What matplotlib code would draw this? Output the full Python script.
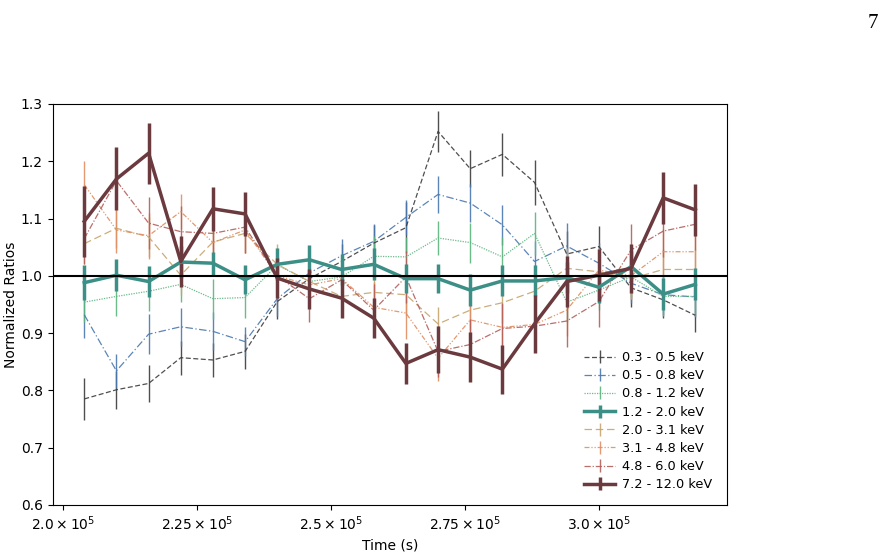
import matplotlib
matplotlib.use("Agg")
import matplotlib.pyplot as plt
from matplotlib.ticker import FuncFormatter, FixedLocator

time_s = [203900, 209900, 215900, 221900, 227900, 233900, 239900, 245900, 251900, 257900,
          263900, 269900, 275900, 281900, 287900, 293900, 299900, 305900, 311900, 317900]

band_labels = ["0.3 - 0.5 keV", "0.5 - 0.8 keV", "0.8 - 1.2 keV", "1.2 - 2.0 keV",
               "2.0 - 3.1 keV", "3.1 - 4.8 keV", "4.8 - 6.0 keV", "7.2 - 12.0 keV"]

r_03_05 = [0.785, 0.801, 0.812, 0.857, 0.853, 0.868, 0.955, 0.995, 1.025, 1.057,
           1.084, 1.252, 1.187, 1.212, 1.163, 1.038, 1.051, 0.979, 0.958, 0.931]
e_03_05 = [0.036, 0.033, 0.032, 0.030, 0.030, 0.030, 0.030, 0.030, 0.030, 0.032,
           0.045, 0.036, 0.032, 0.038, 0.040, 0.040, 0.036, 0.034, 0.032, 0.030]

r_05_08 = [0.932, 0.834, 0.898, 0.911, 0.903, 0.885, 0.960, 1.005, 1.035, 1.060,
           1.102, 1.142, 1.127, 1.089, 1.025, 1.052, 1.022, 0.987, 0.967, 0.963]
e_05_08 = [0.040, 0.030, 0.035, 0.033, 0.033, 0.025, 0.030, 0.030, 0.030, 0.030,
           0.030, 0.033, 0.033, 0.035, 0.035, 0.040, 0.035, 0.035, 0.035, 0.035]

r_08_12 = [0.954, 0.964, 0.973, 0.985, 0.960, 0.962, 1.019, 0.990, 0.998, 1.034,
           1.033, 1.066, 1.058, 1.033, 1.074, 0.954, 0.975, 0.998, 0.964, 0.964]
e_08_12 = [0.035, 0.035, 0.035, 0.030, 0.035, 0.035, 0.030, 0.035, 0.035, 0.035,
           0.035, 0.030, 0.035, 0.035, 0.038, 0.035, 0.035, 0.035, 0.035, 0.035]

r_12_20 = [0.988, 1.001, 0.990, 1.024, 1.022, 0.993, 1.020, 1.028, 1.011, 1.020,
           0.995, 0.995, 0.975, 0.991, 0.991, 0.997, 0.980, 1.016, 0.968, 0.985]
e_12_20 = [0.030, 0.028, 0.027, 0.028, 0.020, 0.025, 0.028, 0.025, 0.027, 0.028,
           0.025, 0.025, 0.028, 0.027, 0.027, 0.027, 0.027, 0.027, 0.028, 0.028]

r_20_31 = [1.056, 1.083, 1.068, 1.001, 1.059, 1.074, 1.020, 0.990, 0.964, 0.971,
           0.967, 0.916, 0.940, 0.953, 0.973, 1.013, 1.007, 0.995, 1.011, 1.011]
e_20_31 = [0.035, 0.035, 0.035, 0.035, 0.035, 0.035, 0.035, 0.035, 0.035, 0.035,
           0.035, 0.030, 0.035, 0.035, 0.035, 0.035, 0.035, 0.035, 0.035, 0.035]

r_31_48 = [1.159, 1.080, 1.070, 1.112, 1.058, 1.080, 1.000, 0.984, 0.995, 0.945,
           0.935, 0.856, 0.923, 0.910, 0.915, 0.940, 1.010, 1.000, 1.042, 1.042]
e_31_48 = [0.042, 0.040, 0.040, 0.030, 0.040, 0.040, 0.040, 0.040, 0.040, 0.045,
           0.045, 0.040, 0.040, 0.040, 0.040, 0.045, 0.040, 0.040, 0.040, 0.040]

r_48_60 = [1.065, 1.166, 1.092, 1.077, 1.074, 1.085, 1.000, 0.960, 0.993, 0.940,
           0.998, 0.868, 0.880, 0.908, 0.912, 0.921, 0.955, 1.045, 1.078, 1.090]
e_48_60 = [0.045, 0.045, 0.045, 0.045, 0.045, 0.045, 0.045, 0.040, 0.040, 0.045,
           0.045, 0.045, 0.045, 0.045, 0.045, 0.045, 0.045, 0.045, 0.045, 0.045]

r_72_120 = [1.095, 1.169, 1.214, 1.025, 1.117, 1.108, 0.996, 0.977, 0.961, 0.926,
            0.847, 0.871, 0.858, 0.837, 0.916, 0.990, 1.001, 1.013, 1.136, 1.115]
e_72_120 = [0.062, 0.055, 0.053, 0.045, 0.038, 0.038, 0.035, 0.035, 0.034, 0.035,
            0.036, 0.041, 0.044, 0.043, 0.050, 0.045, 0.045, 0.043, 0.045, 0.046]

ratios = [r_03_05, r_05_08, r_08_12, r_12_20, r_20_31, r_31_48, r_48_60, r_72_120]
errors = [e_03_05, e_05_08, e_08_12, e_12_20, e_20_31, e_31_48, e_48_60, e_72_120]

colors = ["#3c3c3c", "#4a78b0", "#5cb47e", "#3b8f86",
          "#c6a56e", "#e08e62", "#b35f5b", "#6b3a3e"]
styles = [(0, (4, 2)), (0, (6, 2, 1, 2)), (0, (1, 1)), "-",
          (0, (6, 3)), (0, (4, 1.5, 1, 1.5, 1, 1.5)), (0, (5, 1.5, 1, 1.5)), "-"]
thick = [False, False, False, True, False, False, False, True]
alphas = [0.9, 0.9, 0.9, 1.0, 0.9, 0.9, 0.9, 1.0]

fig = plt.figure(figsize=(8.92, 5.53), dpi=100)
ax = fig.add_axes([0.059, 0.087, 0.756, 0.725])

for r, e, lab, c, ls, tk, a in zip(ratios, errors, band_labels, colors, styles, thick, alphas):
    lw = 2.5 if tk else 0.9
    eb = ax.errorbar(time_s, r, yerr=e, color=c, lw=lw, elinewidth=(2.5 if tk else 1.0),
                     capsize=0, label=lab, alpha=a, zorder=(3 if tk else 2))
    eb[0].set_linestyle(ls)

ax.axhline(1.0, color="black", lw=1.5, zorder=4)

ax.set_ylim(0.6, 1.3)
ax.set_xlim(198000, 323800)
ax.xaxis.set_major_locator(FixedLocator([200000, 225000, 250000, 275000, 300000]))
tick_txt = {200000: r"$2.0\times10^{5}$", 225000: r"$2.25\times10^{5}$",
            250000: r"$2.5\times10^{5}$", 275000: r"$2.75\times10^{5}$",
            300000: r"$3.0\times10^{5}$"}
ax.xaxis.set_major_formatter(FuncFormatter(lambda v, p: tick_txt.get(int(round(v)), "")))
ax.set_xlabel("Time (s)")
ax.set_ylabel("Normalized Ratios")
ax.yaxis.set_label_coords(-0.052, 0.5)

ax.legend(loc="lower right", frameon=False, fontsize=9.3, handlelength=2.4,
          handletextpad=0.5, labelspacing=0.4, bbox_to_anchor=(0.995, 0.005))

fig.text(0.985, 0.975, "7", ha="right", va="top", fontsize=15, family="Liberation Serif")

fig.savefig("out.png", dpi=100)
